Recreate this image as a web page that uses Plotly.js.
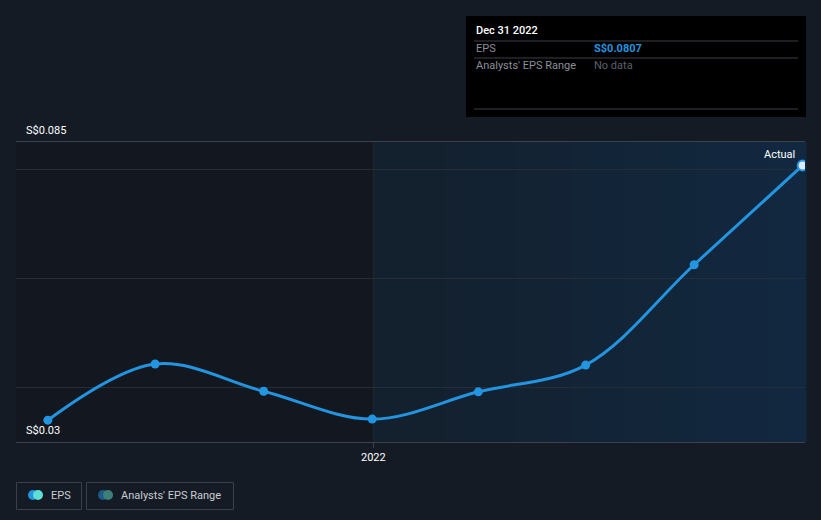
<!DOCTYPE html>
<html>
<head>
<meta charset="utf-8">
<script src="https://cdn.plot.ly/plotly-3.0.1.min.js"></script>
<style>
html,body{margin:0;padding:0;background:#151b25;}
#chart{width:821px;height:520px;}
</style>
</head>
<body>
<div id="chart"></div>
<script>
// ---- data ----
const dates = ['2021-03-31','2021-06-30','2021-09-30','2021-12-31','2022-03-31','2022-06-30','2022-09-30','2022-12-31'];
const eps = [0.0340, 0.0443, 0.0393, 0.0342, 0.0392, 0.0441, 0.0625, 0.0807];
const yTickLabels = ['S$0.085', 'S$0.03'];
const yTickValues = [0.085, 0.03];
const gridValues = [0.04, 0.06, 0.08];
const xTickValues = ['2022-01-01'];
const xTickLabels = ['2022'];
const tooltipTitle = 'Dec 31 2022';
const tooltipRows = [['EPS', 'S$0.0807'], ["Analysts' EPS Range", 'No data']];
const legendItems = ['EPS', "Analysts' EPS Range"];

// ---- layout helpers (pixel -> paper) ----
const W = 821, H = 520;
const M = {l: 16, r: 16, t: 142, b: 78};
const PW = W - M.l - M.r, PH = H - M.t - M.b;
const px = x => (x - M.l) / PW;
const py = y => (H - M.b - y) / PH;

const blue = '#2394df';
const font = 'Roboto, "Open Sans", sans-serif';
const n = eps.length;

const lineTrace = {
  x: dates, y: eps, type: 'scatter', mode: 'lines+markers',
  line: {color: blue, width: 3, shape: 'spline', smoothing: 1},
  marker: {size: 9, color: blue, line: {width: 0}},
  hoverinfo: 'skip'
};
const lastTrace = {
  x: dates.slice(n - 1), y: eps.slice(n - 1), type: 'scatter', mode: 'markers',
  marker: {size: 10, color: '#d8ecfb', line: {color: blue, width: 2}},
  hoverinfo: 'skip'
};

const shapes = [
  {type: 'rect', xref: 'paper', yref: 'paper', x0: 0, x1: 1, y0: 0, y1: 1,
   fillcolor: '#131820', line: {width: 0}, layer: 'below'}
];
// horizontal gradient for the recent period (style only)
const g0 = [0x13, 0x20, 0x2d], g1 = [0x12, 0x28, 0x40];
const steps = 24;
const xs = px(373), xe = 1;
for (let i = 0; i < steps; i++) {
  const t = i / (steps - 1);
  const c = g0.map((v, k) => Math.round(v + (g1[k] - v) * t));
  shapes.push({type: 'rect', xref: 'paper', yref: 'paper',
    x0: xs + (xe - xs) * i / steps, x1: xs + (xe - xs) * (i + 1) / steps + 0.002, y0: 0, y1: 1,
    fillcolor: 'rgb(' + c.join(',') + ')', line: {width: 0}, layer: 'below'});
}
shapes.push(
  {type: 'line', xref: 'x', yref: 'paper', x0: xTickValues[0], x1: xTickValues[0], y0: 0, y1: 1,
   line: {color: '#1a2833', width: 1}, layer: 'below'},
  // tooltip box
  {type: 'rect', xref: 'paper', yref: 'paper', x0: px(466), x1: px(806), y0: py(16), y1: py(117),
   fillcolor: '#000000', line: {width: 0}},
  {type: 'line', xref: 'paper', yref: 'paper', x0: px(474), x1: px(798), y0: py(41), y1: py(41), line: {color: '#3b3f46', width: 1}},
  {type: 'line', xref: 'paper', yref: 'paper', x0: px(474), x1: px(798), y0: py(58), y1: py(58), line: {color: '#3b3f46', width: 1}},
  {type: 'line', xref: 'paper', yref: 'paper', x0: px(474), x1: px(798), y0: py(109), y1: py(109), line: {color: '#3b3f46', width: 1}},
  // legend boxes
  {type: 'rect', xref: 'paper', yref: 'paper', x0: px(16.5), x1: px(81.5), y0: py(482.5), y1: py(509.5),
   fillcolor: 'rgba(0,0,0,0)', line: {color: '#3a404b', width: 1}},
  {type: 'rect', xref: 'paper', yref: 'paper', x0: px(86.5), x1: px(233.5), y0: py(482.5), y1: py(509.5),
   fillcolor: 'rgba(0,0,0,0)', line: {color: '#3a404b', width: 1}},
  // legend icons
  {type: 'circle', xref: 'paper', yref: 'paper', x0: px(28), x1: px(38), y0: py(500), y1: py(490), fillcolor: '#2394df', line: {width: 0}},
  {type: 'circle', xref: 'paper', yref: 'paper', x0: px(33), x1: px(43), y0: py(500), y1: py(490), fillcolor: '#5ee0d6', line: {width: 0}},
  {type: 'circle', xref: 'paper', yref: 'paper', x0: px(98), x1: px(108), y0: py(500), y1: py(490), fillcolor: '#1d5a8a', line: {width: 0}},
  {type: 'circle', xref: 'paper', yref: 'paper', x0: px(103), x1: px(113), y0: py(500), y1: py(490), fillcolor: '#3d8079', line: {width: 0}}
);

const fs = 11;
const annotations = [
  {xref: 'paper', yref: 'y', x: px(24), y: yTickValues[0], text: yTickLabels[0], showarrow: false,
   xanchor: 'left', yanchor: 'bottom', yshift: 3, font: {family: font, size: fs, color: '#ffffff'}},
  {xref: 'paper', yref: 'y', x: px(24), y: yTickValues[1], text: yTickLabels[1], showarrow: false,
   xanchor: 'left', yanchor: 'bottom', yshift: 3, font: {family: font, size: fs, color: '#ffffff'}},
  {xref: 'paper', yref: 'paper', x: px(797), y: py(154), text: 'Actual', showarrow: false,
   xanchor: 'right', yanchor: 'middle', font: {family: font, size: fs, color: '#ffffff'}},
  {xref: 'paper', yref: 'paper', x: px(474), y: py(31), text: tooltipTitle, showarrow: false,
   xanchor: 'left', yanchor: 'middle', font: {family: font, size: fs, color: '#ffffff', weight: 500}},
  {xref: 'paper', yref: 'paper', x: px(474), y: py(49), text: tooltipRows[0][0], showarrow: false,
   xanchor: 'left', yanchor: 'middle', font: {family: font, size: fs, color: '#8a8f98'}},
  {xref: 'paper', yref: 'paper', x: px(592), y: py(49), text: '<b>' + tooltipRows[0][1] + '</b>', showarrow: false,
   xanchor: 'left', yanchor: 'middle', font: {family: font, size: fs, color: blue}},
  {xref: 'paper', yref: 'paper', x: px(474), y: py(66), text: tooltipRows[1][0], showarrow: false,
   xanchor: 'left', yanchor: 'middle', font: {family: font, size: fs, color: '#8a8f98'}},
  {xref: 'paper', yref: 'paper', x: px(592), y: py(66), text: tooltipRows[1][1], showarrow: false,
   xanchor: 'left', yanchor: 'middle', font: {family: font, size: fs, color: '#5b6068'}},
  {xref: 'paper', yref: 'paper', x: px(49), y: py(495), text: legendItems[0], showarrow: false,
   xanchor: 'left', yanchor: 'middle', font: {family: font, size: fs, color: '#c9ccd1'}},
  {xref: 'paper', yref: 'paper', x: px(119), y: py(495), text: legendItems[1], showarrow: false,
   xanchor: 'left', yanchor: 'middle', font: {family: font, size: fs, color: '#c9ccd1'}}
];

const layout = {
  width: W, height: H,
  margin: M,
  paper_bgcolor: '#151b25',
  plot_bgcolor: 'rgba(0,0,0,0)',
  showlegend: false,
  xaxis: {
    type: 'date', range: ['2021-03-04', '2023-01-02'],
    tickvals: xTickValues, ticktext: xTickLabels,
    showgrid: false, zeroline: false,
    showline: true, mirror: true, linecolor: '#3c424c', linewidth: 1,
    ticks: 'outside', ticklen: 5, tickcolor: '#3c424c',
    tickfont: {family: font, size: fs, color: '#ffffff'},
    fixedrange: true
  },
  yaxis: {
    range: [0.03, 0.085],
    tickvals: gridValues, showticklabels: false,
    showgrid: true, gridcolor: '#262d37', gridwidth: 1,
    zeroline: false, showline: false, ticks: '',
    fixedrange: true
  },
  shapes: shapes,
  annotations: annotations,
  font: {family: font}
};

Plotly.newPlot('chart', [lineTrace, lastTrace], layout, {displayModeBar: false, staticPlot: true});
</script>
</body>
</html>
